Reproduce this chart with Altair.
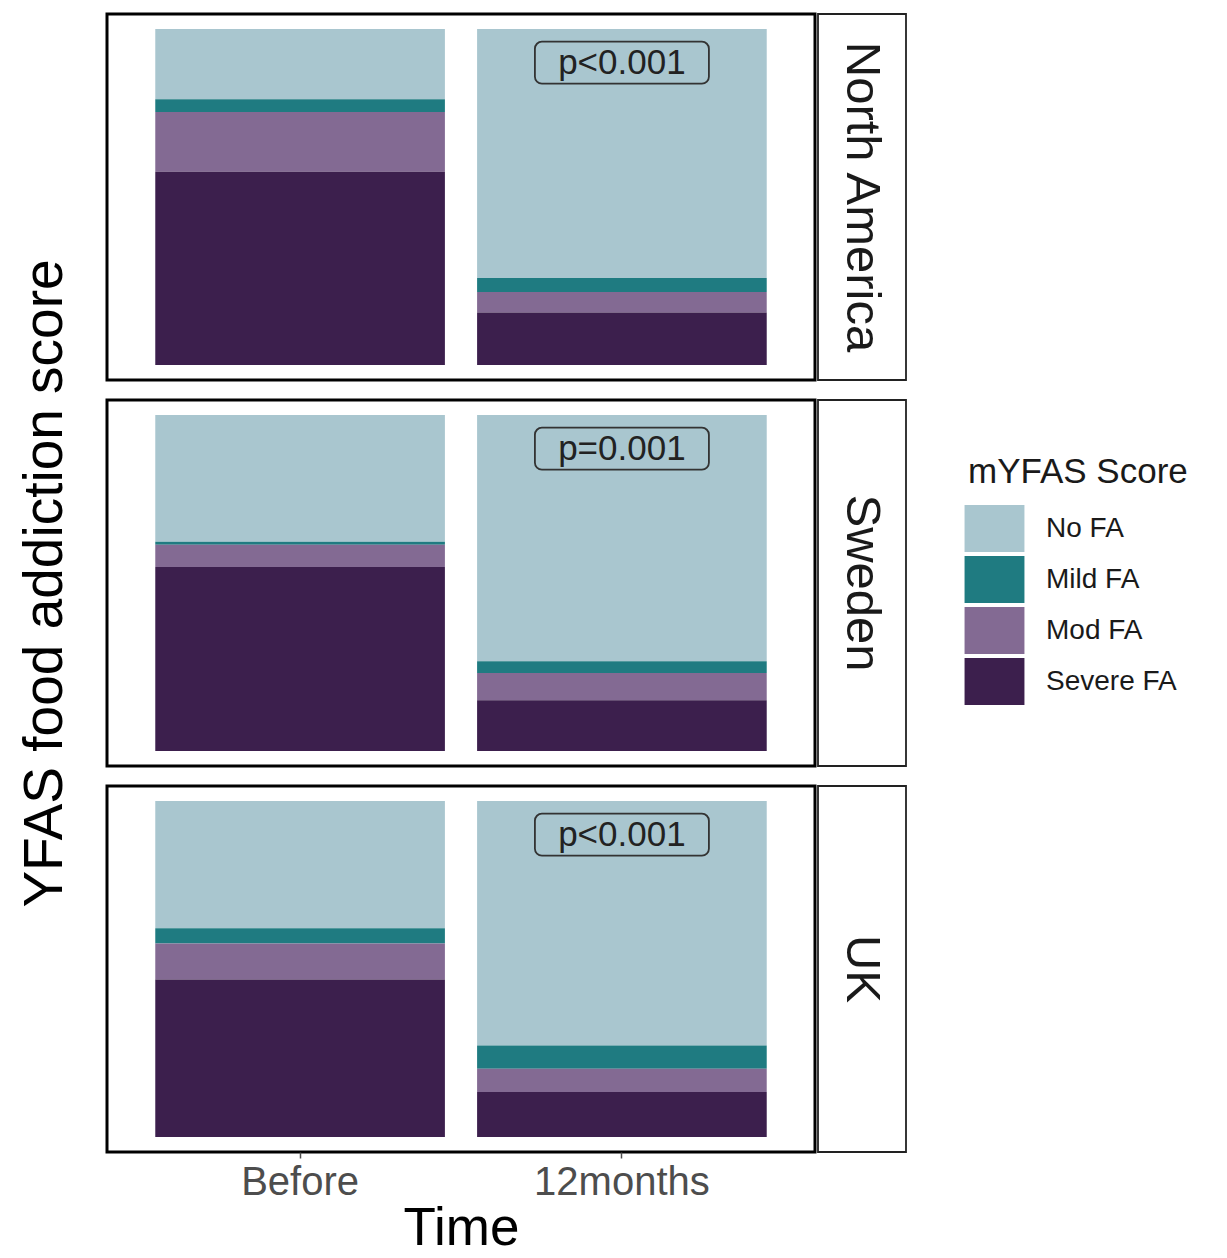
import altair as alt
import pandas as pd

# ---------------- data ----------------
regions = ["North America", "Sweden", "UK"]
times = ["Before", "12months"]
categories = ["No FA", "Mild FA", "Mod FA", "Severe FA"]
stack_rank = [3, 2, 1, 0]          # Severe at the bottom, No FA on top
colors = ["#A9C6CF", "#1F7B81", "#836A93", "#3C1F4D"]

# proportions in the order [No FA, Mild FA, Mod FA, Severe FA]
na_before = [0.209, 0.038, 0.178, 0.575]
na_12m = [0.741, 0.042, 0.061, 0.156]
sw_before = [0.377, 0.009, 0.066, 0.548]
sw_12m = [0.733, 0.035, 0.081, 0.151]
uk_before = [0.379, 0.045, 0.107, 0.469]
uk_12m = [0.728, 0.069, 0.069, 0.134]

p_labels = ["p<0.001", "p=0.001", "p<0.001"]
p_time = "12months"
p_y = 0.9

values = {
    ("North America", "Before"): na_before,
    ("North America", "12months"): na_12m,
    ("Sweden", "Before"): sw_before,
    ("Sweden", "12months"): sw_12m,
    ("UK", "Before"): uk_before,
    ("UK", "12months"): uk_12m,
}

rows = []
for (reg, t), vals in values.items():
    for cat, rank, v in zip(categories, stack_rank, vals):
        rows.append({"region": reg, "time": t, "score": cat, "rank": rank, "value": v})
df = pd.DataFrame(rows)

FONT = "Liberation Sans, Arial, Helvetica, sans-serif"
W, H, SW = 708, 366, 88
BOX_HALF = 0.0625

xscale = alt.Scale(domain=times, paddingInner=0.1, paddingOuter=0.15)
yscale = alt.Scale(domain=[-0.045, 1.045], nice=False, zero=False)
cscale = alt.Scale(domain=categories, range=colors)

legend = alt.Legend(
    title="mYFAS Score", orient="none", legendX=861, legendY=441,
    titleFontSize=35, titleFont=FONT, titleFontWeight="normal", titleColor="#1a1a1a",
    titleLimit=500, labelLimit=400,
    titlePadding=12, labelFontSize=28, labelFont=FONT, labelColor="#1a1a1a",
    symbolType="M-1.13,-0.89H1.13V0.89H-1.13Z", symbolSize=2809,
    symbolStrokeWidth=0, symbolOpacity=1, rowPadding=0, labelOffset=25, padding=0,
)


def make_panel(i, region):
    d = df[df["region"] == region]
    is_mid = i == 1
    is_bottom = i == len(regions) - 1

    if is_bottom:
        xenc = alt.X("time:N", scale=xscale, sort=times, axis=alt.Axis(
            title="Time", labelAngle=0, labelFontSize=40, labelFont=FONT,
            labelColor="#4D4D4D", labelPadding=4, tickColor="#4D4D4D", tickSize=6,
            tickWidth=1.5, domain=False, titleFontSize=53, titleFont=FONT,
            titleFontWeight="normal", titleColor="black", titlePadding=0))
    else:
        xenc = alt.X("time:N", scale=xscale, sort=times, axis=None)

    yaxis = alt.Axis(
        title="YFAS food addiction score" if is_mid else "", labels=False, ticks=False,
        domain=False, grid=False, titleFontSize=55, titleFont=FONT,
        titleFontWeight="normal", titleColor="black", titlePadding=34)

    bars = alt.Chart(d).mark_bar().encode(
        x=xenc,
        y=alt.Y("value:Q", stack="zero", scale=yscale, axis=yaxis),
        color=alt.Color("score:N", scale=cscale, legend=legend),
        order=alt.Order("rank:Q", sort="ascending"),
    )

    pdf = pd.DataFrame({"time": [p_time], "label": [p_labels[i]], "y": [p_y],
                        "y0": [p_y - BOX_HALF], "y1": [p_y + BOX_HALF]})
    box = alt.Chart(pdf).mark_bar(
        width=174, fill="#A9C6CF", fillOpacity=0, stroke="#333333", strokeWidth=1.8,
        cornerRadius=7,
    ).encode(x=alt.X("time:N", scale=xscale, sort=times),
             y=alt.Y("y0:Q", scale=yscale), y2="y1:Q")
    txt = alt.Chart(pdf).mark_text(fontSize=35, font=FONT, color="#222222").encode(
        x=alt.X("time:N", scale=xscale, sort=times),
        y=alt.Y("y:Q", scale=yscale), text="label:N")

    return alt.layer(bars, box, txt).properties(
        width=W, height=H,
        view=alt.ViewBackground(stroke="black", strokeWidth=3, fill="white"))


def make_strip(region):
    return alt.Chart(pd.DataFrame({"region": [region]})).mark_text(
        angle=90, fontSize=49, font=FONT, color="#1a1a1a").encode(
        text="region:N").properties(
        width=SW, height=H,
        view=alt.ViewBackground(stroke="#222222", strokeWidth=1.8, fill="white"))


panels = alt.vconcat(*[make_panel(i, r) for i, r in enumerate(regions)],
                     spacing=20, bounds="flush")
strips = alt.vconcat(*[make_strip(r) for r in regions], spacing=20, bounds="flush")

chart = alt.hconcat(panels, strips, spacing=0).properties(
    padding={"left": 7, "top": 4, "right": 5, "bottom": 0}
).configure(font=FONT)

chart.save("out.html", embed_options={"renderer": "svg", "actions": False})
